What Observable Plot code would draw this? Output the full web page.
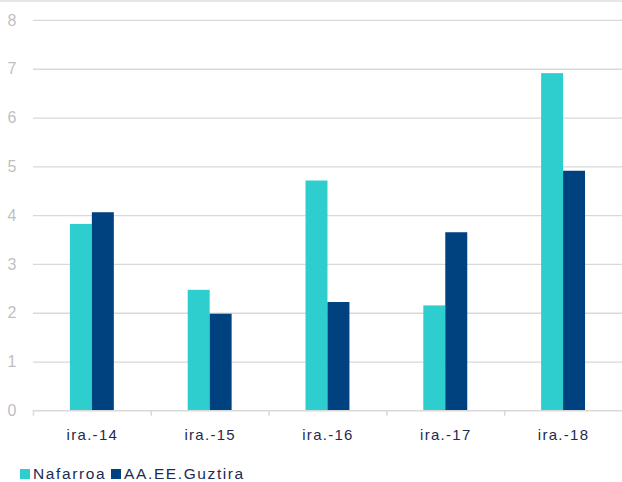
<!DOCTYPE html>
<html>
<head>
<meta charset="utf-8">
<script src="https://cdn.jsdelivr.net/npm/d3@7"></script>
<script src="https://cdn.jsdelivr.net/npm/@observablehq/plot@0.6"></script>
<style>
  html, body { margin: 0; padding: 0; background: #fff; overflow: hidden; }
  #wrap { width: 622px; height: 480px; border-top: 2px solid #e6e6e6; position: relative; overflow: hidden; font-family: "Liberation Sans", Arial, sans-serif; }
  #legend { position: absolute; left: 20px; top: 463px; display: flex; align-items: center; font-size: 15.5px; letter-spacing: 1.6px; color: #1e2b4f; }
  #legend .sw { display: inline-block; width: 10px; height: 10px; margin-right: 3px; }
  #legend .item { display: flex; align-items: center; margin-right: 5px; }
  #chart svg g[aria-label="x-axis tick label"] text { letter-spacing: 1.3px; }
</style>
</head>
<body>
<div id="wrap">
  <div id="chart"></div>
  <div id="legend"></div>
</div>
<script>
const categories = ["ira.-14", "ira.-15", "ira.-16", "ira.-17", "ira.-18"];
const seriesNames = ["Nafarroa", "AA.EE.Guztira"];
const nafarroa = [3.82, 2.47, 4.71, 2.15, 6.91];
const guztira = [4.06, 1.98, 2.22, 3.65, 4.91];
const yTicks = [0, 1, 2, 3, 4, 5, 6, 7, 8];
const colors = ["#2ecece", "#004280"];

const data = [];
categories.forEach((c, i) => {
  data.push({cat: c, series: seriesNames[0], value: nafarroa[i]});
  data.push({cat: c, series: seriesNames[1], value: guztira[i]});
});

const width = 623, marginLeft = 33, marginRight = 0;
const step = (width - marginLeft - marginRight) / categories.length;
const barW = 22;

const chart = Plot.plot({
  width,
  height: 450,
  marginLeft,
  marginRight,
  marginTop: 18,
  marginBottom: 41,
  style: {fontFamily: "'Liberation Sans', Arial, sans-serif", background: "#fff", overflow: "visible"},
  x: {domain: categories, paddingInner: 0, paddingOuter: 0},
  y: {domain: [0, 8]},
  color: {domain: seriesNames, range: colors},
  marks: [
    Plot.ruleY(yTicks.filter(d => d > 0), {stroke: "#d9d9d9", strokeWidth: 1.3}),
    Plot.barY(data.filter(d => d.series === seriesNames[0]), {
      x: "cat", y: "value", fill: "series",
      insetLeft: step / 2 - barW, insetRight: step / 2
    }),
    Plot.barY(data.filter(d => d.series === seriesNames[1]), {
      x: "cat", y: "value", fill: "series",
      insetLeft: step / 2, insetRight: step / 2 - barW
    }),
    Plot.ruleY([0], {stroke: "#d9d9d9", strokeWidth: 1.5}),
    Plot.ruleX(categories, {x: d => d, dx: -step / 2, y1: 0, y2: -0.11, stroke: "#d9d9d9", strokeWidth: 1.5}),
    Plot.axisY(yTicks, {
      tickSize: 0, tickPadding: 17, fontSize: 16, fill: "#bfbfbf", label: null
    }),
    Plot.axisX({
      tickSize: 0, tickPadding: 19, fontSize: 15, fill: "#1e2b4f", label: null
    })
  ]
});
document.getElementById("chart").appendChild(chart);

const legend = document.getElementById("legend");
seriesNames.forEach((s, i) => {
  const item = document.createElement("div");
  item.className = "item";
  const sw = document.createElement("span");
  sw.className = "sw";
  sw.style.background = colors[i];
  const tx = document.createElement("span");
  tx.textContent = s;
  item.appendChild(sw);
  item.appendChild(tx);
  legend.appendChild(item);
});
</script>
</body>
</html>
